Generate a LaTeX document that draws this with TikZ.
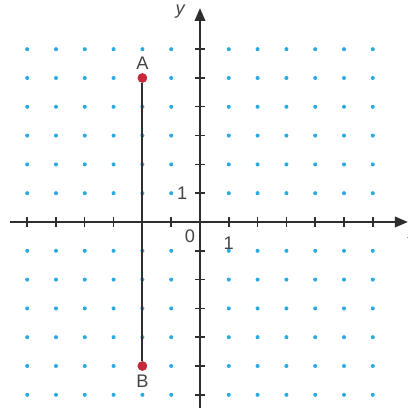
\documentclass[tikz,border=0pt]{standalone}
\usepackage{fontspec}
\setmainfont{Liberation Sans}
\usepackage{xcolor}
\usetikzlibrary{positioning,arrows.meta}

\definecolor{dotblue}{HTML}{29ABE2}
\definecolor{ptred}{HTML}{C8283C}
\definecolor{axisgray}{HTML}{2E2E2E}
\definecolor{labelgray}{HTML}{444444}

\begin{document}
\begin{tikzpicture}[x=1cm, y=1cm, node distance=0.3cm,
    lbl/.style={text=labelgray, font=\fontsize{18}{20}\selectfont, inner sep=0pt}]
    \useasboundingbox (-6.944,-6.424) rectangle (7.222,7.708);
    % dot grid
    \foreach \i in {-6,...,6} {
        \foreach \j in {-6,...,6} {
            \ifnum\i=0\else\ifnum\j=0\else
                \fill[dotblue] (\i,\j) circle (0.07);
            \fi\fi
        }
    }
    % axes
    \coordinate (xstart) at (-6.6,0);
    \coordinate (xend) at (7.22,0);
    \coordinate (ystart) at (0,-6.6);
    \coordinate (yend) at (0,7.43);
    \draw[axisgray, line width=2.2pt, -{Triangle[length=0.45cm, width=0.36cm]}] (xstart) -- (xend);
    \draw[axisgray, line width=2.2pt, -{Triangle[length=0.45cm, width=0.36cm]}] (ystart) -- (yend);
    \foreach \i in {-6,...,6} {
        \draw[axisgray, line width=1.4pt] (\i,-0.17) -- (\i,0.17);
        \draw[axisgray, line width=1.4pt] (-0.17,\i) -- (0.17,\i);
    }
    \node[lbl, font=\fontsize{18}{20}\selectfont\itshape] (ylabel) at (-0.69,7.29) {y};
    \node[lbl, font=\fontsize{18}{20}\selectfont\itshape] (xlabel) at (7.38,-0.42) {x};
    \node[lbl] (origin) at (-0.35,-0.49) {0};
    \node[lbl] (xone) at (1.0,-0.73) {1};
    \node[lbl] (yone) at (-0.62,1.0) {1};
    % segment AB
    \node[circle, fill=ptred, inner sep=0pt, minimum size=0.34cm] (A) at (-2,5) {};
    \node[circle, fill=ptred, inner sep=0pt, minimum size=0.34cm] (B) at (-2,-5) {};
    \draw[axisgray, line width=2pt] (A) -- (B);
    \node[lbl, above=0.12cm of A] (Alabel) {A};
    \node[lbl, below=0.14cm of B] (Blabel) {B};
\end{tikzpicture}
\end{document}
